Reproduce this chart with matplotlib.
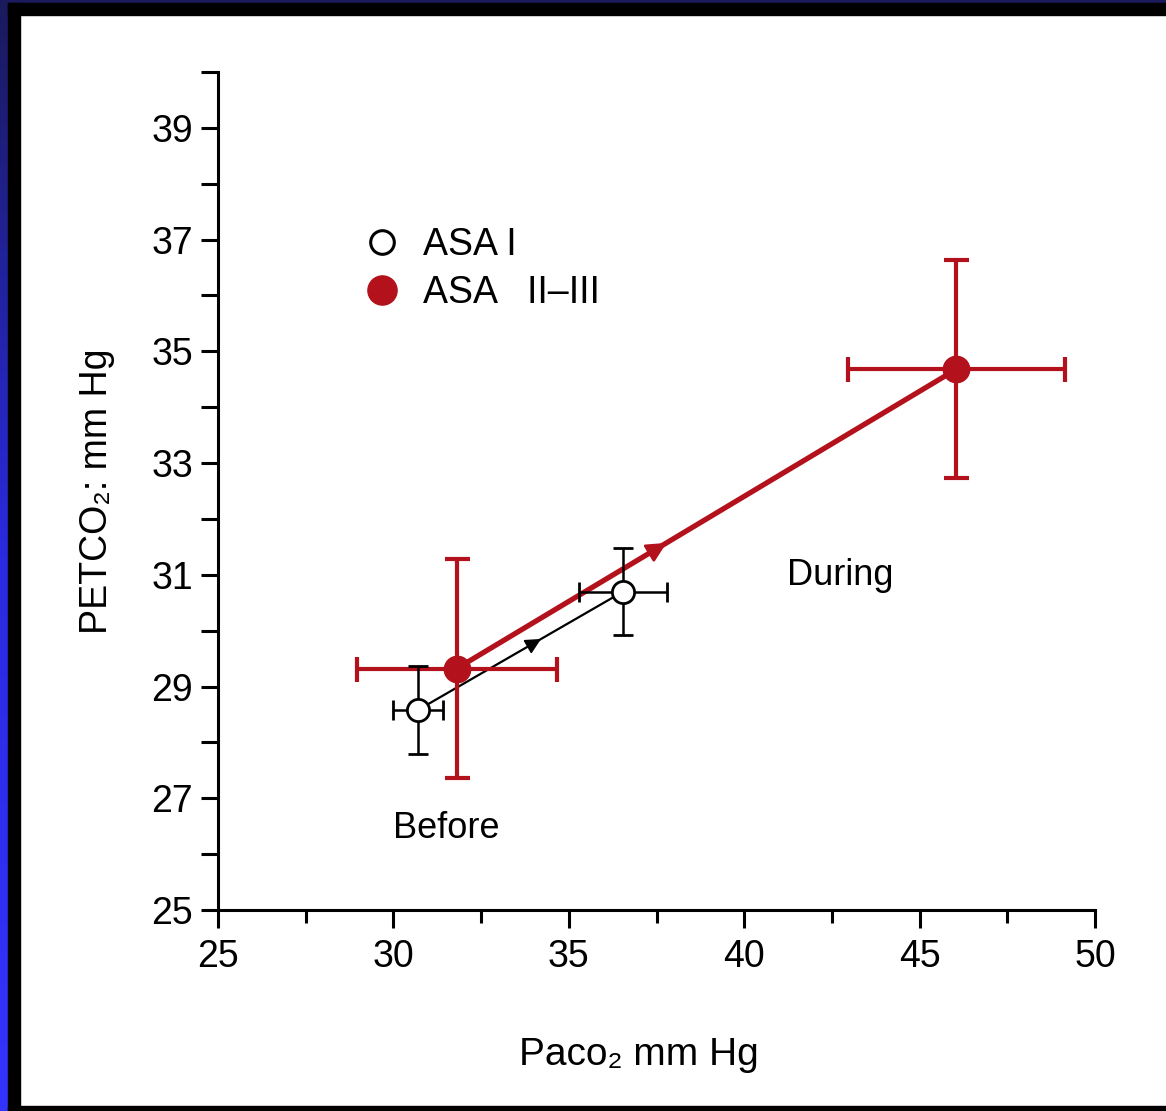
import numpy as np
import matplotlib
matplotlib.use("Agg")
import matplotlib.pyplot as plt
from matplotlib.lines import Line2D
from matplotlib.patches import Rectangle
from matplotlib.colors import LinearSegmentedColormap

# ---------------- data ----------------
asa1_x = [30.7, 36.55]
asa1_y = [28.58, 30.7]
asa1_xerr = [0.7, 1.25]
asa1_yerr = [0.78, 0.78]

asa23_x = [31.8, 46.05]
asa23_y = [29.32, 34.68]
asa23_xerr = [2.85, 3.1]
asa23_yerr = [1.96, 1.95]

x_ticks = [25, 30, 35, 40, 45, 50]
y_ticks = [25, 27, 29, 31, 33, 35, 37, 39]
legend_labels = ["ASA I", "ASA   II\u2013III"]
phase_labels = ["Before", "During"]

RED = "#b3111b"
FONT = ["Liberation Sans Narrow", "Liberation Sans", "DejaVu Sans"]
plt.rcParams["font.family"] = FONT

W, H = 1166, 1111
fig = plt.figure(figsize=(W / 100, H / 100), dpi=100, facecolor="white")

# frame: left blue gradient strip, top navy strip, black borders
bg = fig.add_axes([0, 0, 1, 1], zorder=-10)
bg.set_xlim(0, W); bg.set_ylim(H, 0); bg.axis("off")
grad = np.linspace(0, 1, 256).reshape(-1, 1)
cm = LinearSegmentedColormap.from_list("b", ["#1a1a5c", "#2a2ae0", "#3333ff"])
bg.imshow(grad, cmap=cm, extent=[0, 8, H, 0], aspect="auto")
bg.add_patch(Rectangle((0, 0), W, 3, color="#1a1a5c"))
bg.add_patch(Rectangle((8, 3), W, 12, color="black"))
bg.add_patch(Rectangle((8, 3), 12, H, color="black"))
bg.add_patch(Rectangle((8, 1106), W, 6, color="black"))

ax = fig.add_axes([218 / W, 1 - 910 / H, (1095 - 218) / W, (910 - 72) / H])
ax.set_facecolor("none")
ax.set_xlim(25, 50)
ax.set_ylim(25, 40)
for s in ["top", "right"]:
    ax.spines[s].set_visible(False)
for s in ["left", "bottom"]:
    ax.spines[s].set_linewidth(2.2)

ax.set_xticks(x_ticks)
ax.set_xticks([27.5, 32.5, 37.5, 42.5, 47.5], minor=True)
ax.set_yticks(y_ticks)
ax.set_yticks([26, 28, 30, 32, 34, 36, 38, 40], minor=True)
ax.tick_params(axis="both", which="both", direction="out", width=2.2, labelsize=27)
ax.tick_params(axis="y", which="both", length=12, pad=6)
ax.tick_params(axis="x", which="major", length=13, pad=8)
ax.tick_params(axis="x", which="minor", length=9)

# connecting lines
ax.plot(asa1_x, asa1_y, color="black", lw=1.6, zorder=3)
ax.plot(asa23_x, asa23_y, color=RED, lw=3.8, zorder=4)

# mid-line arrowheads
def mid_arrow(xs, ys, frac, color, lw, scale):
    x0 = xs[0] + (xs[1] - xs[0]) * (frac - 0.03)
    y0 = ys[0] + (ys[1] - ys[0]) * (frac - 0.03)
    x1 = xs[0] + (xs[1] - xs[0]) * frac
    y1 = ys[0] + (ys[1] - ys[0]) * frac
    ax.annotate("", xy=(x1, y1), xytext=(x0, y0),
                arrowprops=dict(arrowstyle="-|>", color=color, lw=lw,
                                mutation_scale=scale, shrinkA=0, shrinkB=0),
                zorder=5)

mid_arrow(asa1_x, asa1_y, 0.60, "black", 1.2, 24)
mid_arrow(asa23_x, asa23_y, 0.42, RED, 2.0, 30)

# error bars
ax.errorbar(asa23_x, asa23_y, xerr=asa23_xerr, yerr=asa23_yerr, fmt="o",
            color=RED, ms=19, mfc=RED, mec=RED, elinewidth=3.0, capsize=9,
            capthick=3.0, zorder=4)
ax.errorbar(asa1_x, asa1_y, xerr=asa1_xerr, yerr=asa1_yerr, fmt="o",
            color="black", ms=16, mfc="white", mec="black", mew=2.0,
            elinewidth=1.8, capsize=7, capthick=1.8, zorder=6)

# legend
handles = [
    Line2D([], [], ls="none", marker="o", ms=17, mfc="white", mec="black", mew=2.2),
    Line2D([], [], ls="none", marker="o", ms=21, mfc=RED, mec=RED),
]
leg = ax.legend(handles, legend_labels, loc="upper left",
                bbox_to_anchor=(0.127, 0.855), frameon=False, fontsize=27,
                handlelength=1.0, handletextpad=0.6, labelspacing=0.32)

# annotations
ax.text(31.5, 26.45, phase_labels[0], fontsize=26, ha="center", va="center")
ax.text(42.75, 30.98, phase_labels[1], fontsize=26, ha="center", va="center")

ax.set_xlabel("Paco\u2082 mm Hg", fontsize=28)
ax.xaxis.set_label_coords(0.48, -0.152)
ax.set_ylabel("PETCO\u2082: mm Hg", fontsize=27, labelpad=26)

fig.savefig("out.png", dpi=100, facecolor="white")
